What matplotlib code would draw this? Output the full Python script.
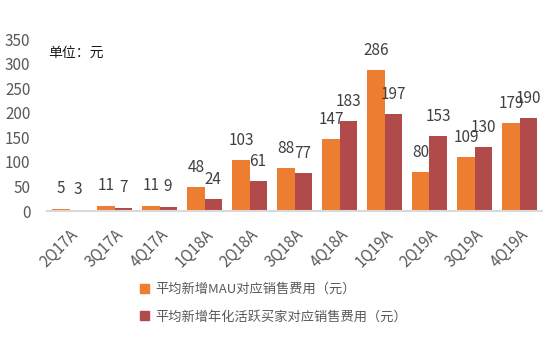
import matplotlib
matplotlib.use("Agg")
import matplotlib.pyplot as plt
import numpy as np
from matplotlib.patches import Patch

plt.rcParams['font.family'] = ['Noto Sans CJK SC', 'DejaVu Sans']

categories = ["2Q17A", "3Q17A", "4Q17A", "1Q18A", "2Q18A", "3Q18A",
              "4Q18A", "1Q19A", "2Q19A", "3Q19A", "4Q19A"]
mau_cost = [5, 11, 11, 48, 103, 88, 147, 286, 80, 109, 179]
buyer_cost = [3, 7, 9, 24, 61, 77, 183, 197, 153, 130, 190]
series_names = ["平均新增MAU对应销售费用（元）", "平均新增年化活跃买家对应销售费用（元）"]
yticks = [0, 50, 100, 150, 200, 250, 300, 350]

c_orange = "#ED7D31"
c_red = "#B04A4B"
txt = "#595959"

W, H = 550, 359
fig = plt.figure(figsize=(W / 100, H / 100), dpi=100)
ax = fig.add_axes([47 / W, (H - 211) / H, (542 - 47) / W, (211 - 39) / H])

x = np.arange(len(categories))
bw = 0.38
b1 = ax.bar(x - bw / 2, mau_cost, bw, color=c_orange)
b2 = ax.bar(x + bw / 2, buyer_cost, bw, color=c_red)

for bars, vals in ((b1, mau_cost), (b2, buyer_cost)):
    for r, v in zip(bars, vals):
        ax.annotate(str(v), (r.get_x() + r.get_width() / 2, v),
                    xytext=(0, 8), textcoords="offset points",
                    ha="center", va="bottom", fontsize=11, color="#404040")

ax.set_xlim(-0.5, len(categories) - 0.5)
ax.set_ylim(0, 350)
ax.set_yticks(yticks)
ax.set_xticks(x)
ax.set_xticklabels(categories, rotation=45, ha="right", rotation_mode="anchor",
                   fontsize=11, color=txt)
ax.tick_params(axis="y", length=0, pad=12, labelsize=11, labelcolor=txt)
ax.tick_params(axis="x", length=0, pad=11)
for s in ("top", "right", "left"):
    ax.spines[s].set_visible(False)
ax.spines["bottom"].set_color("#D9D9D9")
ax.spines["bottom"].set_linewidth(1.5)

fig.text(48 / W, 1 - 53 / H, "单位：元", fontsize=10, color="#1a1a1a",
         ha="left", va="center")

handles = [Patch(color=c_orange), Patch(color=c_red)]
fig.legend(handles, series_names, loc="center left",
           bbox_to_anchor=(128 / W, 1 - 303 / H), frameon=False,
           handlelength=0.7, handleheight=0.7, handletextpad=0.5,
           labelspacing=1.1, fontsize=9.5, labelcolor=txt)

fig.savefig("out.png", dpi=100)
